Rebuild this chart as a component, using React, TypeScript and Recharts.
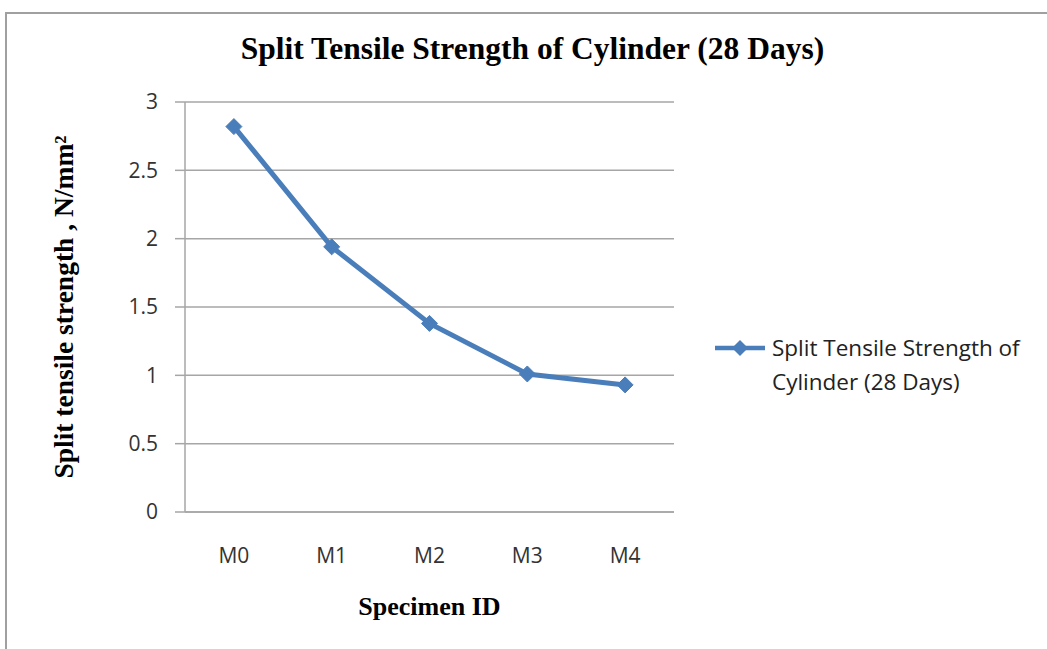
import React from 'react';
import { LineChart, Line, XAxis, YAxis, CartesianGrid } from 'recharts';

const specimens = ['M0', 'M1', 'M2', 'M3', 'M4'];
const strength = [2.82, 1.94, 1.38, 1.01, 0.93];
const yTicks = [0, 0.5, 1, 1.5, 2, 2.5, 3];

const seriesName = 'Split Tensile Strength of Cylinder (28 Days)';
const blue = '#4a7ebb';

const data = specimens.map((id, i) => ({ id, value: strength[i] }));

const Diamond = (props: any) => {
  const { cx, cy } = props;
  if (cx == null || cy == null) return null;
  const r = 8;
  return (
    <path
      d={`M${cx},${cy - r}L${cx + r},${cy}L${cx},${cy + r}L${cx - r},${cy}Z`}
      fill={blue}
      stroke={blue}
      strokeWidth={1}
    />
  );
};

const LegendBox = () => (
  <div
    style={{
      position: 'absolute',
      left: 712,
      top: 331,
      width: 335,
      display: 'flex',
      alignItems: 'flex-start',
      fontFamily: 'Open Sans, sans-serif',
      fontSize: 22.5,
      color: '#222',
      lineHeight: '34px',
    }}
  >
    <svg width={58} height={34} style={{ flexShrink: 0 }}>
      <line x1={3} y1={17} x2={53} y2={17} stroke={blue} strokeWidth={4.5} />
      <path d="M28,9L36,17L28,25L20,17Z" fill={blue} />
    </svg>
    <div style={{ marginLeft: 2, whiteSpace: 'nowrap' }}>
      Split Tensile Strength of
      <br />
      Cylinder (28 Days)
    </div>
  </div>
);

const YLabel = (props: any) => {
  const { viewBox } = props;
  const x = viewBox.x - 62;
  const y = viewBox.y + viewBox.height / 2;
  return (
    <text
      x={x}
      y={y}
      transform={`rotate(-90, ${x}, ${y})`}
      textAnchor="middle"
      dominantBaseline="central"
      style={{ fontFamily: 'Liberation Serif, serif', fontWeight: 'bold', fontSize: 27.5, fill: '#000' }}
    >
      Split tensile strength , N/mm²
    </text>
  );
};

const XLabel = (props: any) => {
  const { viewBox } = props;
  const x = viewBox.x + viewBox.width / 2;
  const y = viewBox.y + 94;
  return (
    <text
      x={x}
      y={y}
      textAnchor="middle"
      dominantBaseline="central"
      style={{ fontFamily: 'Liberation Serif, serif', fontWeight: 'bold', fontSize: 26, fill: '#000' }}
    >
      Specimen ID
    </text>
  );
};

export default function App() {
  return (
    <div style={{ position: 'absolute', left: 0, top: 0, width: 1047, height: 649, overflow: 'hidden', background: '#fff' }}>
      <div
        style={{
          position: 'absolute',
          left: 5,
          top: 12,
          width: 1100,
          height: 700,
          border: '2px solid #a0a0a0',
          boxSizing: 'border-box',
        }}
      />
      <div
        style={{
          position: 'absolute',
          left: 0,
          top: 31,
          width: 1065,
          textAlign: 'center',
          fontFamily: 'Liberation Serif, serif',
          fontWeight: 'bold',
          fontSize: 31.5,
          color: '#000',
        }}
      >
        {seriesName}
      </div>
      <LineChart
        width={1047}
        height={649}
        data={data}
        margin={{ top: 102, right: 373, bottom: 97, left: 125 }}
        style={{ position: 'absolute', left: 0, top: 0 }}
      >
        <CartesianGrid vertical={false} stroke="#a6a6a6" strokeWidth={1.5} />
        <XAxis
          dataKey="id"
          scale="band"
          height={40}
          tickLine={false}
          tickSize={0}
          tickMargin={36}
          axisLine={{ stroke: '#a6a6a6', strokeWidth: 1.5 }}
          tick={{ fontFamily: 'Open Sans, sans-serif', fontSize: 21, fill: '#333' }}
          label={<XLabel />}
        />
        <YAxis
          width={60}
          domain={[0, 3]}
          ticks={yTicks}
          interval={0}
          tickSize={10}
          tickMargin={17}
          axisLine={{ stroke: '#a6a6a6', strokeWidth: 1.5 }}
          tickLine={{ stroke: '#a6a6a6', strokeWidth: 1.5 }}
          tick={{ fontFamily: 'Open Sans, sans-serif', fontSize: 21, fill: '#333' }}
          label={<YLabel />}
        />
        <Line
          type="linear"
          dataKey="value"
          name={seriesName}
          stroke={blue}
          strokeWidth={5}
          dot={<Diamond />}
          activeDot={false}
          isAnimationActive={false}
        />
      </LineChart>
      <LegendBox />
    </div>
  );
}
